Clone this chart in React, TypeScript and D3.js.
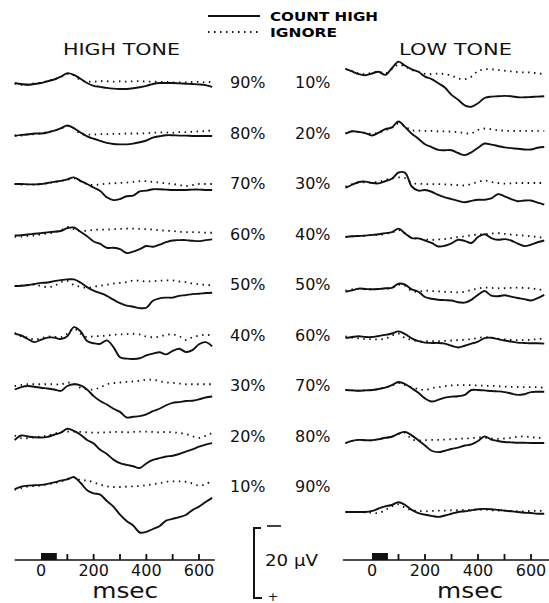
import React from "react";
import * as d3 from "d3";

// sample times (ms) shared by every trace
const times = [
  -100, -75, -50, -25, 0, 25, 50, 75, 100, 125, 150, 175, 200, 225, 250, 275,
  300, 325, 350, 375, 400, 425, 450, 475, 500, 525, 550, 575, 600, 625, 650,
];

const panelTitles = ["HIGH TONE", "LOW TONE"];
const legendLabels = ["COUNT HIGH", "IGNORE"];
const highToneLabels = ["90%", "80%", "70%", "60%", "50%", "40%", "30%", "20%", "10%"];
const lowToneLabels = ["10%", "20%", "30%", "40%", "50%", "60%", "70%", "80%", "90%"];
const tickLabels = [0, 200, 400, 600];
const minorTicks = [100, 200, 300, 400, 500, 600];
const stimulus = [0, 60];
const scaleBar = 20; // µV, negative up

// µV, ERP convention (positive plotted down)
const highCount = [
  [0, 0.3, 0.5, 0.3, 0, -0.5, -1, -1.8, -2.8, -2.3, -1.2, 0, 0.8, 1.1, 1.4, 1.6, 1.7, 1.7, 1.5, 1.2, 0.8, 0.3, 0, 0, 0, 0.1, 0.2, 0.3, 0.4, 0.6, 1.1],
  [0.7, 0.4, 0.3, 0, 0, -0.3, -0.8, -1.5, -2.3, -1.5, -0.3, 0.8, 1.5, 2.1, 2.7, 3.0, 3.1, 3.1, 2.9, 2.5, 2.0, 1.2, 0.8, 0.5, 0.5, 0.6, 0.6, 0.7, 0.7, 0.7, 0.7],
  [0, 0, 0.1, 0.1, 0, -0.3, -0.6, -0.9, -1.3, -1.9, -0.9, 0, 1.0, 2.0, 3.8, 4.6, 4.3, 3.5, 3.3, 2.1, 1.9, 1.5, 1.5, 1.6, 1.7, 1.7, 1.7, 1.6, 1.6, 1.7, 1.7],
  [0.3, 0.2, 0, -0.2, -0.4, -0.6, -0.8, -1.0, -1.8, -2.0, -0.8, 0.5, 2.0, 2.7, 3.8, 3.8, 4.2, 5.3, 4.9, 4.2, 3.3, 3.5, 2.9, 2.2, 1.7, 1.6, 1.6, 1.8, 1.9, 1.6, 1.4],
  [0.3, 0.2, 0, -0.3, -0.6, -0.7, -1.1, -1.4, -1.6, -1.6, -0.7, 0.6, 1.6, 2.3, 3.1, 4.2, 5.2, 5.9, 6.2, 6.6, 6.5, 4.5, 3.8, 3.6, 3.6, 3.1, 2.9, 2.6, 2.5, 2.3, 2.2],
  [-0.5, 0, 1.0, 1.9, 1.2, 0.6, 0.6, 1.0, 0.2, -2.4, -1.2, 1.6, 2.2, 2.4, 1.4, 3.3, 6.2, 6.6, 6.7, 6.5, 5.7, 5.2, 4.8, 5.4, 4.4, 3.8, 4.7, 4.2, 2.5, 1.9, 3.1],
  [1.0, 0.3, 0, 0.2, 0.5, 0.7, 1.0, 1.4, 0, -0.5, -0.2, 1.0, 2.9, 4.3, 5.3, 6.5, 7.4, 9.0, 8.8, 8.6, 8.1, 7.2, 6.5, 5.5, 4.8, 4.6, 4.3, 4.2, 3.8, 3.3, 3.0],
  [1.0, -0.3, 0, 0.2, 0.3, 0.1, -0.5, -1.1, -2.2, -1.6, -0.5, 1.0, 2.0, 3.8, 5.0, 6.6, 7.6, 8.1, 8.5, 9.0, 7.7, 6.7, 6.2, 5.7, 5.5, 5.0, 4.3, 3.7, 2.9, 2.3, 1.9],
  [0.6, -0.1, -0.4, -0.5, -0.6, -0.9, -1.3, -1.8, -2.2, -2.8, -1.2, 0.9, 1.8, 2.2, 4.0, 5.6, 7.9, 9.7, 11.0, 13.0, 12.8, 12.0, 11.2, 9.6, 9.1, 8.6, 8.0, 6.6, 5.6, 4.3, 3.1],
];

const highIgnore = [
  [0.2, 0.5, 0.4, 0.1, -0.1, -0.6, -1.1, -1.7, -2.6, -2.2, -0.8, -0.4, -0.4, -0.5, -0.5, -0.4, -0.5, -0.4, -0.5, -0.5, -0.4, -0.4, -0.3, -0.3, -0.2, -0.2, -0.2, -0.3, -0.3, -0.2, -0.4],
  [0.5, 0.6, 0.2, 0.2, -0.1, -0.4, -0.9, -1.4, -2.2, -1.5, 0.1, 0.3, 0.3, 0.2, 0.2, 0.1, 0.1, 0, 0, 0, -0.1, -0.2, -0.3, -0.3, -0.2, -0.4, -0.4, -0.5, -0.6, -0.7, -0.9],
  [0, 0.2, 0.1, 0.2, 0, -0.2, -0.5, -0.9, -1.2, -1.6, -0.8, 0, 0.3, 0.1, -0.1, -0.2, -0.3, -0.4, -0.6, -0.8, -0.8, -0.6, -0.4, -0.2, 0, 0.3, 0.6, 0.3, 0, 0, 0],
  [0.7, 0.6, 0.4, 0.3, 0, -0.3, -0.6, -1.2, -2.2, -1.5, -1.0, -1.1, -1.3, -1.4, -1.4, -1.5, -1.6, -1.7, -1.7, -1.6, -1.5, -1.4, -1.2, -1.1, -1.0, -0.8, -0.7, -0.7, -0.6, -0.5, -0.5],
  [0.3, 0.2, 0.1, -0.1, 0.3, 0.6, 0.3, -0.8, -1.2, 0, 0.5, 0.8, 0.5, 0.2, -0.1, -0.4, -0.6, -0.8, -1.3, -1.2, -1.0, -1.1, -1.2, -1.3, -1.3, -1.0, -0.8, -0.4, -0.2, 0, 0],
  [-0.8, 0.3, 0.6, 1.2, 0.8, 0.3, 0.4, 0.5, -0.5, -2.0, -0.5, 0.5, 0.2, 0.2, 0, -0.2, -0.3, -0.4, -0.5, -0.3, 0.3, 0.5, 0.3, -0.2, -0.3, 0.2, 1.3, 0.5, 0, -0.2, 0],
  [0, -0.3, -0.5, -0.5, -0.5, -0.5, -0.5, -0.4, -1.0, -0.6, 0.5, 0.9, 1.0, 0.4, -0.5, -0.8, -1.0, -1.2, -1.3, -1.5, -1.8, -1.8, -1.4, -1.0, -0.9, -0.7, -0.5, -0.5, -0.5, -0.5, -0.5],
  [-0.3, 0.5, 0.5, 0.2, 0, -0.3, -0.8, -1.3, -1.4, -1.4, -1.3, -1.2, -1.1, -1.1, -1.2, -1.3, -1.3, -1.2, -1.3, -1.4, -1.4, -1.3, -1.2, -1.3, -1.2, -1.0, -0.7, -0.1, 0.4, -0.2, -1.0],
  [0.8, 0.3, -0.1, -0.3, -0.4, -0.8, -1.1, -1.6, -2.3, -2.9, -1.9, -1.9, -1.3, -0.7, -0.2, 0, 0, -0.1, -0.2, -0.3, -0.5, -0.8, -1.1, -1.5, -1.6, -1.6, -1.5, -1.0, -0.4, -0.8, -1.9],
];

const lowCount = [
  [-0.3, 0.4, 1.2, 1.5, 1.0, 0.5, 1.4, -0.5, -2.4, -1.2, -0.2, 0.5, 1.9, 2.6, 3.8, 5.0, 7.1, 8.5, 10.1, 10.5, 9.5, 8.0, 7.6, 7.5, 7.4, 7.5, 7.8, 7.8, 7.7, 7.6, 7.5],
  [0.5, -0.2, 0, 0.3, 1.0, 0.2, -0.8, -1.3, -3.0, -1.4, 0.5, 1.9, 3.5, 4.3, 5.1, 5.2, 5.2, 6.0, 6.6, 5.8, 4.5, 3.3, 3.6, 4.0, 4.4, 4.6, 4.8, 5.0, 5.0, 4.5, 4.3],
  [1.4, 0.5, -0.3, -0.4, 0, 0.1, -0.5, -1.2, -3.0, -2.9, 1.0, 2.2, 2.0, 2.5, 3.4, 4.1, 4.6, 5.1, 5.5, 5.1, 4.8, 4.8, 4.4, 3.2, 3.8, 4.6, 5.2, 5.0, 5.0, 5.6, 6.2],
  [0, -0.2, -0.3, -0.4, -0.6, -0.8, -1.1, -1.4, -2.4, -1.0, 0.3, 0.4, 1.0, 1.7, 2.7, 2.5, 1.8, 0.8, 1.1, 1.7, 0, -0.8, 0.3, 0.8, 0.6, 1.0, 1.9, 2.6, 2.2, 1.5, 1.0],
  [0.5, 0.1, -0.4, -0.3, -0.2, -0.3, -0.5, -0.6, -1.8, -1.5, -0.2, 0.5, 2.0, 2.5, 2.8, 2.9, 3.0, 3.5, 3.6, 2.8, 1.4, 0.3, 1.6, 1.8, 1.5, 1.9, 2.3, 2.6, 3.0, 2.3, 1.4],
  [0.3, 0, -0.2, 0, 0, -0.3, -0.6, -1.0, -1.6, -0.8, 0.4, 1.2, 1.6, 1.7, 1.7, 1.9, 2.5, 3.0, 2.5, 1.9, 1.3, 0.3, 0.2, 0.6, 1.0, 1.3, 1.6, 1.7, 1.8, 1.8, 1.9],
  [0, 0.1, 0.2, 0.1, 0, -0.3, -0.7, -1.4, -2.3, -1.7, -0.5, 0.8, 2.4, 3.3, 2.8, 2.2, 1.9, 1.8, 1.4, 0, 0, 0.1, 0.3, 0.4, 0.6, 1.0, 1.4, 1.2, 0.6, 0.5, 0.5],
  [0.3, -0.3, -0.6, -0.5, -0.5, -0.8, -1.2, -1.5, -2.4, -2.9, -1.9, -0.5, 1.0, 2.5, 2.9, 2.5, 2.0, 1.6, 1.0, 0.7, -0.3, -1.6, -0.7, -0.3, 0, 0.1, 0.2, 0.2, 0.3, 0.3, 0.3],
  [0, 0, 0, 0, -0.3, -1.0, -1.6, -2.0, -2.8, -2.0, -0.6, 0.3, 0.8, 1.1, 1.4, 1.0, 0.5, 0, -0.2, -0.5, -0.8, -0.9, -0.8, -0.6, -0.4, -0.2, 0, 0.2, 0.3, 0.5, 0.5],
];

const lowIgnore = [
  [-0.3, 0.3, 1.0, 1.2, 0.8, 0.5, 1.0, -0.3, -1.5, -1.0, 0, 0.5, 1.1, 1.2, 1.0, 1.2, 1.6, 2.4, 2.6, 1.9, 0.3, -0.2, -0.2, 0, 0.2, 0.4, 0.6, 0.7, 0.7, 1.0, 1.1],
  [0.4, -0.2, 0, 0.3, 0.5, 0.2, -0.5, -1.2, -2.5, -1.6, -0.5, -0.4, -0.3, -0.3, -0.2, -0.2, -0.1, 0, 0.3, 0.4, -0.6, -1.0, -0.8, -0.5, -0.4, -0.3, -0.3, -0.3, -0.3, -0.3, -0.3],
  [1.0, 0.3, -0.1, -0.2, -0.2, -0.3, -0.9, -1.3, -1.6, -1.4, 0, 0.2, 0.3, 0.3, 0.3, 0.4, 0.5, 0.6, 0.7, 0.3, -0.3, -0.7, -0.3, 0, 0.2, 0.1, 0, 0, 0, 0, 0],
  [0, -0.2, -0.3, -0.4, -0.6, -0.6, -0.9, -1.3, -2.0, -1.0, 0.2, 0.5, 0.7, 0.8, 0.7, 0.6, 0.3, 0, -0.2, -0.5, -0.7, -0.8, -1.0, -1.1, -0.9, -0.7, -0.5, -0.4, -0.2, 0, 0.3],
  [0.2, -0.2, -0.3, -0.2, -0.2, -0.3, -0.4, -0.6, -1.5, -1.2, 0.3, 0.5, 0.2, 0.3, 0.4, 0.5, 0.6, 0.7, 0.5, 0, -0.4, -0.7, -0.6, -0.5, -0.5, -0.6, -0.7, -0.6, -0.5, -0.2, 0],
  [-0.2, 0.2, 0.4, 0.6, 0.6, 0.7, 0.5, -0.4, -1.0, 0.3, 0.8, 1.2, 1.2, 1.2, 1.2, 1.1, 1.0, 0.9, 0.8, 0.6, 0.3, 0, 0.2, 0.5, 0.7, 0.8, 0.9, 0.9, 0.8, 0.6, 0.5],
  [0, 0.1, 0.2, 0.1, 0, -0.3, -0.7, -1.3, -2.0, -1.4, -0.7, -0.3, 0, -0.5, -0.8, -1.1, -1.3, -1.4, -1.4, -1.4, -1.3, -1.2, -1.2, -1.1, -1.0, -0.9, -0.9, -0.8, -0.8, -0.8, -0.6],
  [0.3, -0.3, -0.6, -0.5, -0.5, -0.8, -1.2, -1.5, -2.3, -2.6, -0.8, -0.5, -0.5, -0.6, -0.6, -0.7, -0.8, -0.9, -1.0, -1.1, -1.3, -1.2, -1.0, -0.9, -1.0, -1.2, -1.5, -1.6, -1.4, -1.2, -1.1],
  [0, 0, 0, 0.1, 0.2, 0.3, -0.6, -1.6, -2.2, -1.2, -0.5, -0.3, -0.2, -0.3, -0.4, -0.4, -0.5, -0.5, -0.6, -0.6, -0.7, -0.7, -0.5, -0.4, -0.4, -0.3, -0.2, -0.2, -0.3, -0.3, -0.3],
];

const font = "'DejaVu Sans', sans-serif";

export default function App() {
  const width = 549;
  const height = 603;

  const rowY = d3.scalePoint<number>().domain(d3.range(9)).range([83, 487]);
  const amp = d3.scaleLinear().domain([0, scaleBar]).range([0, 70]);
  const axisY = 560;

  const panels = [
    {
      title: panelTitles[0],
      titleX: 63,
      titleLen: 117,
      x: d3.scaleLinear().domain([0, 600]).range([41, 199]),
      extent: [-100, 660],
      labels: highToneLabels,
      labelX: 230,
      count: highCount,
      ignore: highIgnore,
      shift: [0, 0, 0, 0, 0, 0, 0, 0, 0],
      msecT: 320,
    },
    {
      title: panelTitles[1],
      titleX: 399,
      titleLen: 113,
      x: d3.scaleLinear().domain([0, 600]).range([372, 531]),
      extent: [-110, 668],
      labels: lowToneLabels,
      labelX: 295,
      count: lowCount,
      ignore: lowIgnore,
      shift: [-13, -1.5, -1, 2.5, 5, 1.5, 4, 5.5, 25],
      msecT: 370,
    },
  ];

  const makeLine = (x: d3.ScaleLinear<number, number>, base: number) =>
    d3
      .line<number>()
      .x((_, i) => x(times[i]))
      .y((v) => base + amp(v))
      .curve(d3.curveCatmullRom.alpha(0.5));

  return (
    <svg
      width={width}
      height={height}
      style={{ position: "absolute", left: 0, top: 0, background: "#fff" }}
      fontFamily={font}
    >
      {/* legend */}
      <line x1={208} x2={260} y1={16} y2={16} stroke="#111" strokeWidth={2} />
      <line x1={208} x2={260} y1={32} y2={32} stroke="#111" strokeWidth={1.8} strokeDasharray="1.5 4.5" />
      <text x={270} y={21} fontSize={12} fontWeight="bold" textLength={108} lengthAdjust="spacingAndGlyphs">
        {legendLabels[0]}
      </text>
      <text x={270} y={37} fontSize={12} fontWeight="bold" textLength={67} lengthAdjust="spacingAndGlyphs">
        {legendLabels[1]}
      </text>

      {panels.map((p, pi) => (
        <g key={pi}>
          <text x={p.titleX} y={55} fontSize={16.5} textLength={p.titleLen} lengthAdjust="spacingAndGlyphs" fill="#111">
            {p.title}
          </text>
          {p.labels.map((lab, i) => (
            <text key={lab} x={p.labelX} y={rowY(i)! + 5} fontSize={16} fill="#111">
              {lab}
            </text>
          ))}
          {p.count.map((series, i) => {
            const base = rowY(i)! + p.shift[i];
            const line = makeLine(p.x, base);
            return (
              <g key={i}>
                <path d={line(p.ignore[i]) || ""} fill="none" stroke="#111" strokeWidth={1.8} strokeDasharray="1.5 4.5" />
                <path d={line(series) || ""} fill="none" stroke="#111" strokeWidth={1.9} strokeLinejoin="round" />
              </g>
            );
          })}
          {/* time axis */}
          <line x1={p.x(p.extent[0])} x2={p.x(p.extent[1])} y1={axisY} y2={axisY} stroke="#111" strokeWidth={1.5} />
          <rect
            x={p.x(stimulus[0])}
            y={axisY - 7}
            width={p.x(stimulus[1]) - p.x(stimulus[0])}
            height={7}
            fill="#111"
          />
          {minorTicks.map((t) => (
            <line key={t} x1={p.x(t)} x2={p.x(t)} y1={axisY - 6} y2={axisY} stroke="#111" strokeWidth={1.8} />
          ))}
          {tickLabels.map((t) => (
            <text key={t} x={p.x(t)} y={576} fontSize={16} textAnchor="middle" fill="#111">
              {t}
            </text>
          ))}
          <text x={p.x(p.msecT)} y={598} fontSize={21} textAnchor="middle" fill="#111" textLength={66} lengthAdjust="spacingAndGlyphs">
            msec
          </text>
        </g>
      ))}

      {/* voltage scale bar */}
      <path
        d={`M261,${528}H254V${528 + amp(scaleBar)}H262`}
        fill="none"
        stroke="#111"
        strokeWidth={2}
      />
      <line x1={267} x2={281} y1={526} y2={526} stroke="#111" strokeWidth={1.6} />
      <text x={273} y={601} fontSize={13} textAnchor="middle" fill="#111">
        +
      </text>
      <text x={265} y={566} fontSize={16} fill="#111" textLength={53} lengthAdjust="spacingAndGlyphs">
        {`${scaleBar} µV`}
      </text>
    </svg>
  );
}
